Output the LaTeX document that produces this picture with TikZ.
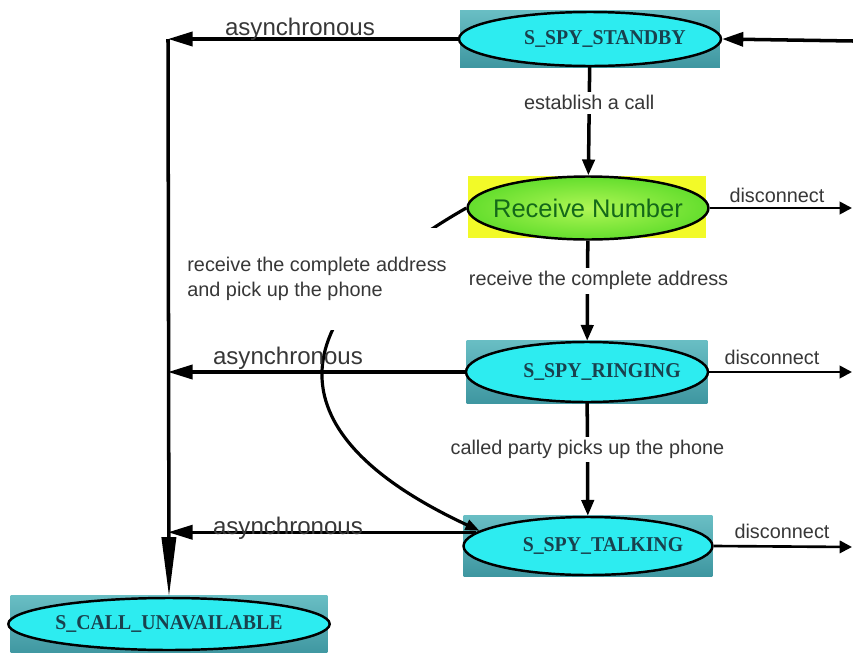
\documentclass[tikz,border=0pt]{standalone}
\usepackage{fontspec}
\setmainfont{Liberation Sans}
\newfontfamily\stfont{Liberation Serif}[FakeStretch=0.94]
\usetikzlibrary{arrows.meta,shapes.geometric}
\definecolor{boxtop}{RGB}{105,190,196}
\definecolor{boxmid}{RGB}{70,214,220}
\definecolor{boxbot}{RGB}{62,150,160}
\definecolor{stfill}{RGB}{45,236,240}
\definecolor{sttext}{RGB}{25,65,78}
\definecolor{recvbox}{RGB}{242,250,40}
\definecolor{recvin}{RGB}{175,246,85}
\definecolor{recvout}{RGB}{100,222,45}
\definecolor{recvtext}{RGB}{20,105,25}
\definecolor{lblgray}{RGB}{55,55,55}

\begin{document}
\begin{tikzpicture}[x=0.02cm,y=-0.02cm,
  stbox/.style={rectangle,inner sep=0pt,top color=boxtop,middle color=boxmid,bottom color=boxbot},
  sttext/.style={text=sttext,font=\stfont\bfseries\fontsize{12}{14}\selectfont,inner sep=0pt},
  state/.style={ellipse,draw=black,line width=1.4pt,fill=stfill,inner sep=0pt,
    label={[sttext,xshift=0.3cm]center:#1}},
  lbl/.style={font=\fontsize{11.3}{14.2}\selectfont,text=lblgray,inner sep=2pt},
  async/.style={font=\fontsize{13.7}{16}\selectfont,text=lblgray,anchor=base,inner sep=0pt},
  flow/.style={line width=2pt,-{Triangle[length=9pt,width=7pt]}},
  back/.style={line width=2pt,-{Triangle[length=14pt,width=8pt]}},
  quit/.style={line width=1.5pt,-{Triangle[length=7pt,width=7pt]}}]
\useasboundingbox (0,0) rectangle (853,653);

% states: shaded box with an ellipse on top
\node[stbox,minimum width=5.2cm,minimum height=1.16cm] (standbyBox) at (590,39) {};
\node[state=S\_SPY\_STANDBY,minimum width=5.24cm,minimum height=1.08cm] (standby) at (standbyBox) {};
\node[rectangle,fill=recvbox,minimum width=4.78cm,minimum height=1.24cm] (recvBox) at (587,207) {};
\node[ellipse,draw=black,line width=1.4pt,inner xsep=-0.2cm,inner ysep=0pt,inner color=recvin,outer color=recvout,
  minimum width=4.82cm,minimum height=1.26cm,text=recvtext,font=\fontsize{14.5}{17}\selectfont]
  (recv) at (588,208) {Receive Number};
\node[stbox,minimum width=4.82cm,minimum height=1.28cm] (ringBox) at (587,372) {};
\node[state=S\_SPY\_RINGING,minimum width=4.84cm,minimum height=1.2cm] (ring) at (ringBox) {};
\node[stbox,minimum width=4.98cm,minimum height=1.22cm] (talkBox) at (588,546) {};
\node[state=S\_SPY\_TALKING,minimum width=4.98cm,minimum height=1.16cm] (talk) at (talkBox) {};
\node[stbox,minimum width=6.34cm,minimum height=1.2cm] (unavailBox) at (169,625) {};
\node[ellipse,draw=black,line width=1.4pt,fill=stfill,inner sep=0pt,sttext,
  minimum width=6.36cm,minimum height=1.04cm] (unavail) at (169,624) {S\_CALL\_UNAVAILABLE};

\coordinate (bus) at (168,39);
\coordinate (in) at (853,41);
\coordinate (out1) at (852,208);
\coordinate (out2) at (852,372);
\coordinate (out3) at (852,547);

% main path down the states
\draw[flow] (standby) -- node[lbl,fill=white,pos=0.33] {establish a call} (recv);
\draw[flow] (recv) -- node[lbl,fill=white,pos=0.4,xshift=0.22cm] {receive the complete address} (ring);
\draw[flow] (ring) -- node[lbl,fill=white,pos=0.41] {called party picks up the phone} (talk);
\draw[line width=2pt,-{Triangle[length=12pt,width=8pt]}] (in) -- (standby.east);

% direct jump, partly hidden under its label
\draw[line width=1.8pt,-{Triangle[length=8pt,width=6pt]}] (recv.west)
  .. controls +(-167,95) and +(-230,-107) .. (talk.172);
\node[lbl,fill=white,anchor=west,align=left,inner xsep=0.14cm,minimum height=2.04cm]
  (jumpLbl) at (180,279) {receive the complete address\\and pick up the phone};

% asynchronous exits
\draw[line width=2pt,-{Triangle[length=34pt,width=8pt]}] (bus) -- (unavail.north);
\draw[back] (standby.west) -- (standby.west -| bus);
\draw[back] (ring.west) -- (ring.west -| bus);
\draw[back] (talk.173) -- (talk.173 -| bus);
\node[async] (async1) at (300,35) {asynchronous};
\node[async] (async2) at (288,364) {asynchronous};
\node[async] (async3) at (288,534) {asynchronous};

% disconnects
\draw[quit] (recv.east) -- (out1);
\draw[quit] (ring.east) -- (out2);
\draw[quit] (talk.east) -- (out3);
\node[lbl,anchor=base,inner sep=0pt] (disc1) at (777,202) {disconnect};
\node[lbl,anchor=base,inner sep=0pt] (disc2) at (772,364) {disconnect};
\node[lbl,anchor=base,inner sep=0pt] (disc3) at (782,538) {disconnect};
\end{tikzpicture}
\end{document}
